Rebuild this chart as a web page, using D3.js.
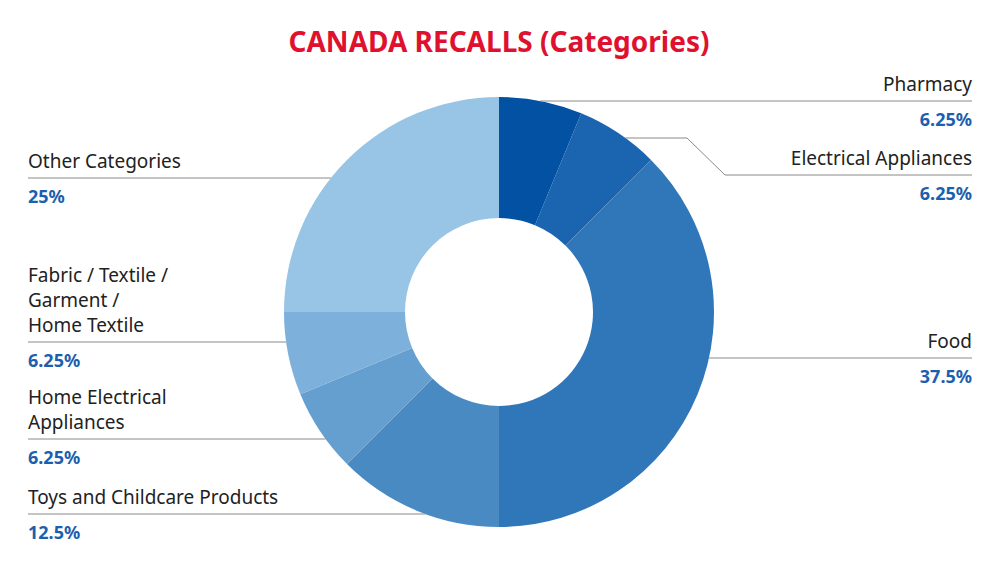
<!DOCTYPE html>
<html>
<head>
<meta charset="utf-8">
<script src="https://cdn.jsdelivr.net/npm/d3@7"></script>
<style>
  body { margin: 0; background: #fff; }
  text { font-family: "Noto Sans", "Open Sans", sans-serif; }
</style>
</head>
<body>
<div id="chart"></div>
<script>
var categories = ["Pharmacy", "Electrical Appliances", "Food", "Toys and Childcare Products",
  "Home Electrical Appliances", "Fabric / Textile / Garment / Home Textile", "Other Categories"];
var labelLines = [["Pharmacy"], ["Electrical Appliances"], ["Food"], ["Toys and Childcare Products"],
  ["Home Electrical", "Appliances"], ["Fabric / Textile /", "Garment /", "Home Textile"], ["Other Categories"]];
var shares = [6.25, 6.25, 37.5, 12.5, 6.25, 6.25, 25];
var valueLabels = ["6.25%", "6.25%", "37.5%", "12.5%", "6.25%", "6.25%", "25%"];
var colors = ["#0251a2", "#1a64b0", "#3077ba", "#4a8ac3", "#649fd0", "#7eb0dc", "#98c4e6"];

var width = 1000, height = 567;
var cx = 499, cy = 312, outerR = 215, innerR = 94;
// leader line heights and side for each label
var lineY = [101, 175, 358, 514, 439, 342, 178];
var side = [1, 1, 1, -1, -1, -1, -1];

var svg = d3.select("#chart").append("svg")
  .attr("width", width).attr("height", height);

svg.append("text")
  .attr("x", cx).attr("y", 52)
  .attr("text-anchor", "middle")
  .attr("fill", "#e0112f")
  .attr("font-size", 28).attr("font-weight", "bold")
  .text("CANADA RECALLS (Categories)");

var pie = d3.pie().sort(null).value(d => d);
var arc = d3.arc().innerRadius(innerR).outerRadius(outerR);
var arcs = pie(shares);

var g = svg.append("g").attr("transform", `translate(${cx}, ${cy})`);
g.selectAll("path")
  .data(arcs)
  .enter().append("path")
  .attr("d", arc)
  .attr("fill", (d, i) => colors[i]);

var lines = svg.append("g");
arcs.forEach(function(d, i) {
  var s = side[i];
  var pts;
  if (i === 1) {
    // elbowed line for Electrical Appliances
    var y0 = 138, dy0 = y0 - cy;
    var x0 = cx + Math.sqrt(outerR * outerR - dy0 * dy0);
    pts = [[x0, y0], [687, y0], [725, lineY[i]], [972, lineY[i]]];
  } else {
    var dy = lineY[i] - cy;
    var x0 = cx + s * Math.sqrt(outerR * outerR - dy * dy);
    pts = [[x0, lineY[i]], [s > 0 ? 972 : 28, lineY[i]]];
  }
  lines.append("path")
    .attr("d", d3.line()(pts))
    .attr("fill", "none")
    .attr("stroke", "#8a8a8a")
    .attr("stroke-width", 1);

  var tx = s > 0 ? 972 : 28;
  var anchor = s > 0 ? "end" : "start";
  var n = labelLines[i].length;
  labelLines[i].forEach(function(t, k) {
    svg.append("text")
      .attr("x", tx).attr("y", lineY[i] - 10 - (n - 1 - k) * 25)
      .attr("text-anchor", anchor)
      .attr("fill", "#222").attr("font-size", 19)
      .text(t);
  });
  svg.append("text")
    .attr("x", tx).attr("y", lineY[i] + 25)
    .attr("text-anchor", anchor)
    .attr("fill", "#1c5fae").attr("font-size", 18).attr("font-weight", "bold")
    .text(valueLabels[i]);
});
</script>
</body>
</html>
